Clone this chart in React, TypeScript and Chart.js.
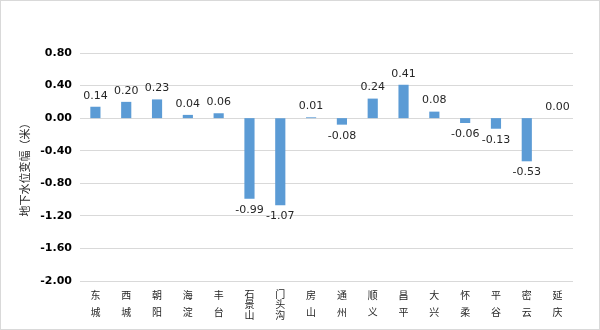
import React, { useEffect, useRef } from "react";
import { Chart, registerables } from "chart.js";

Chart.register(...registerables);

const districts: string[][] = [
  ["东", "城"], ["西", "城"], ["朝", "阳"], ["海", "淀"], ["丰", "台"],
  ["石", "景", "山"], ["门", "头", "沟"], ["房", "山"], ["通", "州"], ["顺", "义"],
  ["昌", "平"], ["大", "兴"], ["怀", "柔"], ["平", "谷"], ["密", "云"], ["延", "庆"],
];
const changes: number[] = [0.14, 0.2, 0.23, 0.04, 0.06, -0.99, -1.07, 0.01, -0.08, 0.24, 0.41, 0.08, -0.06, -0.13, -0.53, 0.0];
const yTitle = "地下水位变幅（米）";

const FONT = "'DejaVu Sans', 'Noto Sans CJK SC', sans-serif";
const CJK = "'Noto Sans CJK SC', sans-serif";

const labelPlugin = {
  id: "valueLabels",
  afterDatasetsDraw(chart: any) {
    const ctx = chart.ctx;
    const meta = chart.getDatasetMeta(0);
    ctx.save();
    ctx.font = `11px ${FONT}`;
    ctx.fillStyle = "#262626";
    ctx.textAlign = "center";
    ctx.textBaseline = "middle";
    meta.data.forEach((bar: any, i: number) => {
      const v = changes[i];
      const y = v >= 0 ? bar.y - 11 : bar.y + 11;
      ctx.fillText(v.toFixed(2), bar.x, y);
    });
    ctx.restore();
  },
};

// vertical (stacked) category labels under the x axis
const xLabelPlugin = {
  id: "stackedXLabels",
  afterDraw(chart: any) {
    const ctx = chart.ctx;
    const xs = chart.scales.x;
    const base = xs.top;
    ctx.save();
    ctx.font = `10px ${CJK}`;
    ctx.fillStyle = "#262626";
    ctx.textAlign = "center";
    ctx.textBaseline = "middle";
    districts.forEach((chars, i) => {
      const x = xs.getPixelForValue(i);
      const step = chars.length === 3 ? 10.5 : 17;
      const first = chars.length === 3 ? 13 : 14;
      chars.forEach((ch, j) => {
        ctx.fillText(ch, x, base + first + j * step);
      });
    });
    ctx.restore();
  },
};

const borderPlugin = {
  id: "outerBorder",
  afterDraw(chart: any) {
    const ctx = chart.ctx;
    ctx.save();
    ctx.strokeStyle = "#d9d9d9";
    ctx.lineWidth = 1;
    ctx.strokeRect(0.5, 0.5, chart.width - 1, chart.height - 1);
    ctx.restore();
  },
  beforeDraw(chart: any) {
    const ctx = chart.ctx;
    ctx.save();
    ctx.fillStyle = "#ffffff";
    ctx.fillRect(0, 0, chart.width, chart.height);
    ctx.restore();
  },
};

export default function App() {
  const ref = useRef<HTMLCanvasElement>(null);
  useEffect(() => {
    const chart = new Chart(ref.current!, {
      type: "bar",
      data: {
        labels: districts.map((d) => d.join("")),
        datasets: [
          {
            data: changes,
            backgroundColor: "#5b9bd5",
            categoryPercentage: 1,
            barPercentage: 0.33,
          },
        ],
      },
      options: {
        animation: false,
        responsive: false,
        maintainAspectRatio: false,
        layout: { padding: { top: 53, right: 27, left: 0, bottom: 0 } },
        plugins: { legend: { display: false }, tooltip: { enabled: false } },
        scales: {
          x: {
            grid: { display: false },
            border: { display: false },
            ticks: { display: false },
            afterFit: (s: any) => {
              s.height = 49;
            },
          },
          y: {
            min: -2,
            max: 0.8,
            grid: { color: "#d9d9d9", drawTicks: false },
            border: { display: false },
            ticks: {
              stepSize: 0.4,
              padding: 8,
              color: "#000000",
              font: { size: 11, weight: "bold", family: FONT },
              callback: (v: any) => {
                const n = Math.round(Number(v) * 100) / 100;
                return (n === 0 ? 0 : n).toFixed(2);
              },
            },
            title: {
              display: true,
              text: yTitle,
              color: "#262626",
              font: { size: 11, family: CJK },
              padding: { top: 18, bottom: 0 },
            },
            afterFit: (s: any) => {
              s.width = 80;
            },
          },
        },
      },
      plugins: [labelPlugin, xLabelPlugin, borderPlugin],
    });
    return () => chart.destroy();
  }, []);
  return (
    <div style={{ position: "fixed", left: 0, top: 0, width: 600, height: 330 }}>
      <canvas ref={ref} width={600} height={330} style={{ width: 600, height: 330 }} />
    </div>
  );
}
